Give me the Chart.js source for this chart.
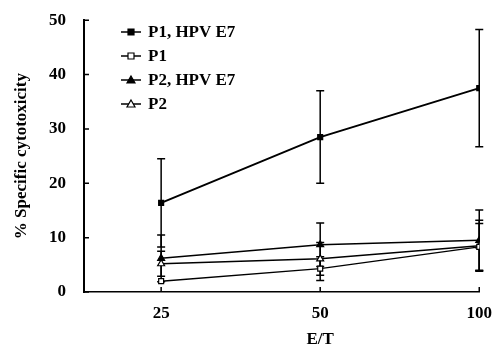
<!DOCTYPE html>
<html>
<head>
<meta charset="utf-8">
<script src="https://cdn.jsdelivr.net/npm/chart.js@4"></script>
<style>
  html, body { margin: 0; padding: 0; background: #fff; }
  #wrap { width: 495px; height: 354px; position: relative; }
</style>
</head>
<body>
<div id="wrap"><canvas id="c"></canvas></div>
<script>
// categories (E/T ratio) and values
const ratios = ['25', '50', '100'];
const seriesNames = ['P1, HPV E7', 'P1', 'P2, HPV E7', 'P2'];
const p1E7 = [16.4, 28.5, 37.5];
const p1E7Err = [8.1, 8.5, 10.8];
const p1 = [2.0, 4.3, 8.3];
const p1Err = [0, 2.2, 4.3];
const p2E7 = [6.2, 8.7, 9.5];
const p2E7Err = [4.3, 4.0, 5.6];
const p2 = [5.2, 6.1, 8.5];
const p2Err = [2.3, 3.0, 4.7];
const yTicks = [0, 10, 20, 30, 40, 50];

const FONT = '"Liberation Serif", "Times New Roman", serif';

function pts(values) {
  return values.map((v, i) => ({ x: i, y: v }));
}

function makeSet(label, values, errs, style, filled, width) {
  return {
    label: label,
    data: pts(values),
    errors: errs,
    borderColor: '#000',
    backgroundColor: filled ? '#000' : '#fff',
    borderWidth: width,
    pointStyle: style,
    pointRadius: style === 'triangle' ? 4 : 3.5,
    pointBorderWidth: 1.2,
    pointBorderColor: '#000',
    pointBackgroundColor: filled ? '#000' : '#fff',
    tension: 0
  };
}

// error bars + inward axis ticks, all placed through the scales
const errorBars = {
  id: 'errorBars',
  beforeDatasetsDraw(chart) {
    const ctx = chart.ctx;
    const xs = chart.scales.x, ys = chart.scales.y;
    ctx.save();
    ctx.strokeStyle = '#000';
    ctx.lineWidth = 1.5;
    chart.data.datasets.forEach(ds => {
      ds.data.forEach((p, i) => {
        const e = ds.errors[i];
        if (!e) return;
        const x = xs.getPixelForValue(p.x);
        const top = ys.getPixelForValue(p.y + e);
        const bot = ys.getPixelForValue(p.y - e);
        ctx.beginPath();
        ctx.moveTo(x, top); ctx.lineTo(x, bot);
        ctx.moveTo(x - 4, top); ctx.lineTo(x + 4, top);
        ctx.moveTo(x - 4, bot); ctx.lineTo(x + 4, bot);
        ctx.stroke();
      });
    });
    // ticks pointing into the plot
    const left = xs.left, bottom = ys.bottom;
    ctx.lineWidth = 1.5;
    ctx.beginPath();
    yTicks.forEach(v => {
      const y = ys.getPixelForValue(v);
      ctx.moveTo(left, y); ctx.lineTo(left + 5, y);
    });
    ratios.forEach((r, i) => {
      const x = xs.getPixelForValue(i);
      ctx.moveTo(x, bottom); ctx.lineTo(x, bottom - 5);
    });
    ctx.stroke();
    ctx.restore();
  }
};

// legend inside the plot, line + marker samples
const innerLegend = {
  id: 'innerLegend',
  afterDraw(chart) {
    const ctx = chart.ctx;
    const x0 = 121, y0 = 32, step = 24;
    ctx.save();
    chart.data.datasets.forEach((ds, i) => {
      const y = y0 + i * step;
      ctx.strokeStyle = '#000';
      ctx.lineWidth = 1.5;
      ctx.beginPath();
      ctx.moveTo(x0, y); ctx.lineTo(x0 + 20, y);
      ctx.stroke();
      ctx.fillStyle = ds.pointBackgroundColor;
      ctx.lineWidth = 1.2;
      ctx.beginPath();
      if (ds.pointStyle === 'rect') {
        ctx.rect(x0 + 7, y - 3, 6, 6);
      } else {
        ctx.moveTo(x0 + 10, y - 4); ctx.lineTo(x0 + 14, y + 3); ctx.lineTo(x0 + 6, y + 3); ctx.closePath();
      }
      ctx.fill(); ctx.stroke();
      ctx.fillStyle = '#000';
      ctx.font = 'bold 17px ' + FONT;
      ctx.textBaseline = 'middle';
      ctx.fillText(ds.label, x0 + 27, y + 1);
    });
    // x axis title, centred under the middle category as in the figure
    ctx.font = 'bold 17px ' + FONT;
    ctx.textAlign = 'center';
    ctx.textBaseline = 'middle';
    ctx.fillText('E/T', chart.scales.x.getPixelForValue(1), 340);
    ctx.restore();
  }
};

new Chart(document.getElementById('c'), {
  type: 'line',
  data: {
    datasets: [
      makeSet(seriesNames[0], p1E7, p1E7Err, 'rect', true, 2),
      makeSet(seriesNames[1], p1, p1Err, 'rect', false, 1.5),
      makeSet(seriesNames[2], p2E7, p2E7Err, 'triangle', true, 1.5),
      makeSet(seriesNames[3], p2, p2Err, 'triangle', false, 1.5)
    ]
  },
  options: {
    responsive: true,
    maintainAspectRatio: false,
    animation: false,
    layout: { padding: { top: 19, right: 15, left: 0, bottom: 0 } },
    plugins: { legend: { display: false }, tooltip: { enabled: false } },
    scales: {
      x: {
        type: 'linear',
        min: -0.485,
        max: 2,
        afterBuildTicks: s => { s.ticks = ratios.map((r, i) => ({ value: i })); },
        afterFit: s => { s.height = 62; },
        grid: { display: false },
        border: { display: true, color: '#000', width: 1.5 },
        ticks: {
          color: '#000',
          padding: 3,
          font: { family: FONT, size: 17, weight: 'bold' },
          callback: v => ratios[v]
        }
      },
      y: {
        min: 0,
        max: 50,
        afterBuildTicks: s => { s.ticks = yTicks.map(v => ({ value: v })); },
        afterFit: s => { s.width = 84; },
        grid: { display: false },
        border: { display: true, color: '#000', width: 2 },
        ticks: {
          color: '#000',
          padding: 10,
          font: { family: FONT, size: 17, weight: 'bold' }
        },
        title: {
          display: true,
          text: '% Specific cytotoxicity',
          color: '#000',
          padding: { top: 11, bottom: 0 },
          font: { family: FONT, size: 17, weight: 'bold' }
        }
      }
    }
  },
  plugins: [errorBars, innerLegend]
});
</script>
</body>
</html>
